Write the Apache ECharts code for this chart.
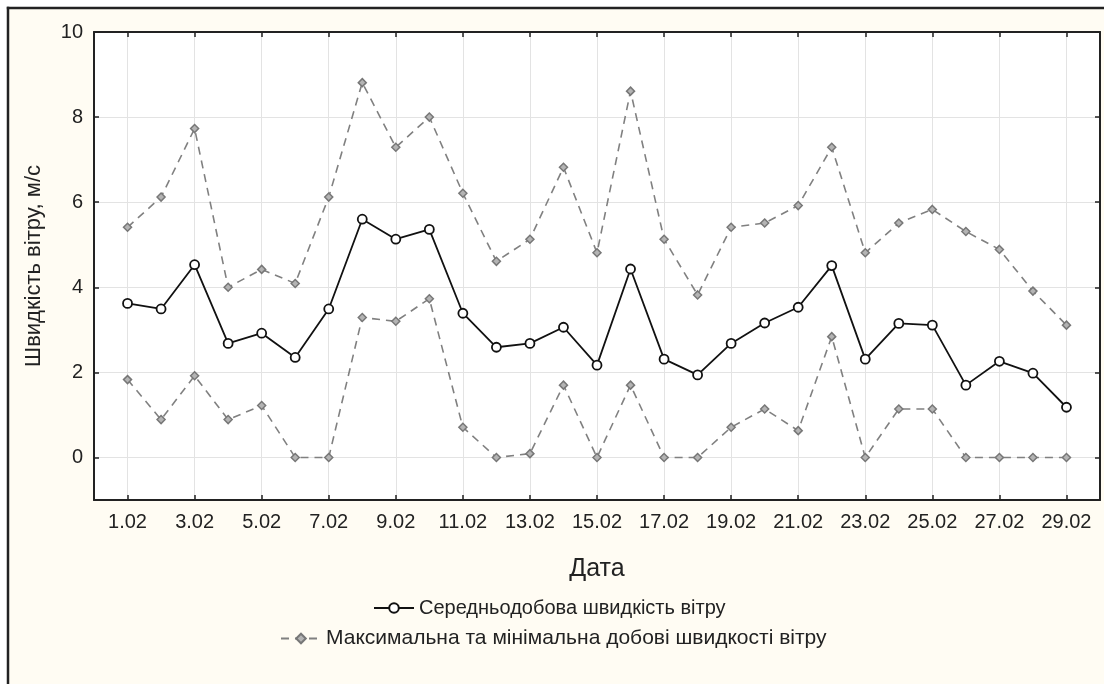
<!DOCTYPE html>
<html>
<head>
<meta charset="utf-8">
<script src="https://cdn.jsdelivr.net/npm/echarts@6/dist/echarts.min.js"></script>
<style>
  html, body { margin: 0; padding: 0; background: #ffffff; }
  #chart { width: 1104px; height: 684px; }
</style>
</head>
<body>
<div id="chart"></div>
<script>
const dates = ['1.02','2.02','3.02','4.02','5.02','6.02','7.02','8.02','9.02','10.02',
  '11.02','12.02','13.02','14.02','15.02','16.02','17.02','18.02','19.02','20.02',
  '21.02','22.02','23.02','24.02','25.02','26.02','27.02','28.02','29.02'];
const meanSpeed = [3.62,3.49,4.53,2.68,2.92,2.35,3.49,5.60,5.13,5.36,
  3.39,2.59,2.68,3.06,2.17,4.43,2.31,1.94,2.68,3.16,
  3.53,4.51,2.31,3.15,3.11,1.70,2.26,1.98,1.18];
const maxSpeed = [5.41,6.12,7.73,4.00,4.42,4.09,6.12,8.81,7.29,8.00,
  6.21,4.61,5.13,6.82,4.81,8.61,5.13,3.82,5.41,5.51,
  5.92,7.29,4.81,5.51,5.83,5.31,4.89,3.91,3.11];
const minSpeed = [1.83,0.89,1.92,0.89,1.22,0.00,0.00,3.29,3.20,3.73,
  0.71,0.00,0.09,1.70,0.00,1.70,0.00,0.00,0.71,1.14,
  0.63,2.84,0.00,1.14,1.14,0.00,0.00,0.00,0.00];
const yTicks = [0, 2, 4, 6, 8, 10];
const meanName = 'Середньодобова швидкість вітру';
const rangeName = 'Максимальна та мінімальна добові швидкості вітру';
const xTitle = 'Дата';
const yTitle = 'Швидкість вітру, м/с';

const FONT = "'Liberation Sans', Arial, sans-serif";
const axisCats = [''].concat(dates, ['']);
const oddIdx = function (i) { return i % 2 === 1; };
const toPairs = function (arr) { return arr.map(function (v, i) { return [dates[i], v]; }); };

const chart = echarts.init(document.getElementById('chart'), null, { renderer: 'canvas' });
const frameLine = { stroke: '#222', lineWidth: 2.5 };
const rangeStyle = {
  type: 'line', name: rangeName, symbol: 'diamond', symbolSize: 8,
  itemStyle: { color: '#b4b4b4', borderColor: '#777', borderWidth: 1.5 },
  lineStyle: { color: '#808080', width: 1.6, type: [8, 6] },
  z: 2
};
chart.setOption({
  animation: false,
  backgroundColor: '#fffcf3',
  textStyle: { fontFamily: FONT },
  graphic: [
    { type: 'rect', shape: { x: 0, y: 0, width: 1104, height: 7 }, style: { fill: '#fff' }, silent: true },
    { type: 'rect', shape: { x: 0, y: 0, width: 7, height: 684 }, style: { fill: '#fff' }, silent: true },
    { type: 'line', shape: { x1: 6.8, y1: 8, x2: 1104, y2: 8 }, style: frameLine, silent: true },
    { type: 'line', shape: { x1: 8, y1: 6.8, x2: 8, y2: 684 }, style: frameLine, silent: true }
  ],
  grid: { left: 94, top: 32, width: 1006, height: 468, show: true, backgroundColor: '#ffffff', borderWidth: 0 },
  legend: [
    { data: [meanName], left: 373, top: 598, padding: 0, itemWidth: 40, itemHeight: 12,
      selectedMode: false, textStyle: { fontSize: 20, color: '#222', fontFamily: FONT } },
    { data: [rangeName], left: 280, top: 628, padding: 0, itemWidth: 40, itemHeight: 12,
      selectedMode: false, textStyle: { fontSize: 21, color: '#222', fontFamily: FONT } }
  ],
  xAxis: [
    { type: 'category', data: axisCats, boundaryGap: false, position: 'bottom',
      name: xTitle, nameLocation: 'middle', nameGap: 57,
      nameTextStyle: { fontSize: 25, color: '#222', fontFamily: FONT },
      axisLine: { onZero: false, lineStyle: { color: '#222', width: 2 } },
      axisTick: { interval: oddIdx, inside: true, length: 5, lineStyle: { color: '#222', width: 1.5 } },
      axisLabel: { interval: oddIdx, fontSize: 20, margin: 12, color: '#222', fontFamily: FONT },
      splitLine: { show: true, interval: oddIdx, lineStyle: { color: '#e3e3e3', width: 1 } } },
    { type: 'category', data: axisCats, boundaryGap: false, position: 'top',
      axisLine: { onZero: false, lineStyle: { color: '#222', width: 2 } },
      axisTick: { interval: oddIdx, inside: true, length: 5, lineStyle: { color: '#222', width: 1.5 } },
      axisLabel: { show: false }, splitLine: { show: false } }
  ],
  yAxis: [
    { type: 'value', min: -1, max: 10, position: 'left',
      name: yTitle, nameLocation: 'middle', nameGap: 49, nameRotate: 90,
      nameTextStyle: { fontSize: 22, color: '#222', fontFamily: FONT },
      axisLine: { show: true, onZero: false, lineStyle: { color: '#222', width: 2 } },
      axisTick: { show: true, inside: true, length: 5, customValues: yTicks, lineStyle: { color: '#222', width: 1.5 } },
      axisLabel: { fontSize: 20, margin: 11, color: '#222', fontFamily: FONT, customValues: yTicks,
        formatter: function (v) { return v < 0 ? '' : String(v); } },
      splitLine: { show: true, lineStyle: { color: '#e3e3e3', width: 1 } } },
    { type: 'value', min: -1, max: 10, position: 'right',
      axisLine: { show: true, onZero: false, lineStyle: { color: '#222', width: 2 } },
      axisTick: { show: true, inside: true, length: 5, customValues: yTicks, lineStyle: { color: '#222', width: 1.5 } },
      axisLabel: { show: false }, splitLine: { show: false } }
  ],
  series: [
    Object.assign({}, rangeStyle, { data: toPairs(maxSpeed) }),
    Object.assign({}, rangeStyle, { data: toPairs(minSpeed) }),
    { type: 'line', name: meanName, data: toPairs(meanSpeed), symbol: 'circle', symbolSize: 9,
      itemStyle: { color: '#ffffff', borderColor: '#111', borderWidth: 1.8 },
      lineStyle: { color: '#111', width: 1.8 }, z: 3 }
  ]
});
</script>
</body>
</html>
